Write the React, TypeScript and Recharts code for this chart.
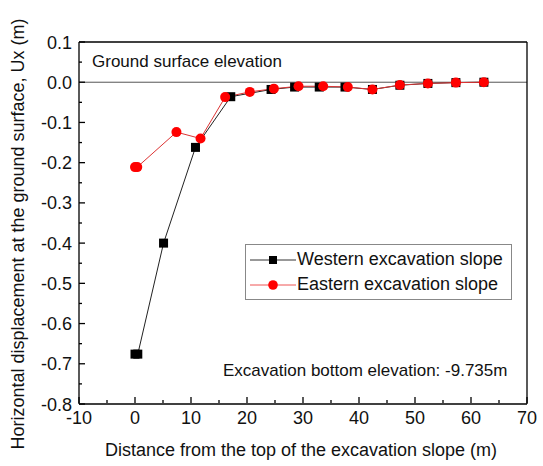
import React from 'react';
import {
  LineChart,
  Line,
  XAxis,
  YAxis,
  ReferenceLine,
} from 'recharts';

const westX = [0, 0.5, 5.1, 10.8, 17.1, 24.3, 28.5, 32.9, 37.5, 42.4, 47.3, 52.3, 57.3, 62.3];
const westY = [-0.676, -0.676, -0.4, -0.162, -0.036, -0.018, -0.012, -0.012, -0.012, -0.018, -0.0075, -0.003, -0.001, 0];

const eastX = [0, 0.4, 7.4, 11.7, 16.1, 20.5, 24.8, 29.2, 33.6, 38.0, 42.4, 47.3, 52.3, 57.3, 62.3];
const eastY = [-0.211, -0.211, -0.124, -0.14, -0.037, -0.024, -0.016, -0.01, -0.01, -0.012, -0.018, -0.007, -0.003, -0.001, 0];

const xTicks = [-10, -5, 0, 5, 10, 15, 20, 25, 30, 35, 40, 45, 50, 55, 60, 65, 70];
const yTicks = [-0.8, -0.75, -0.7, -0.65, -0.6, -0.55, -0.5, -0.45, -0.4, -0.35, -0.3, -0.25, -0.2, -0.15, -0.1, -0.05, 0, 0.05, 0.1];

const SERIES = ['Western excavation slope', 'Eastern excavation slope'];
const X_TITLE = 'Distance from the top of the excavation slope (m)';
const Y_TITLE = 'Horizontal displacement at the ground surface, Ux (m)';

const FONT = 'Arial, "Liberation Sans", sans-serif';
const INK = '#111';

const west = westX.map((x, i) => ({ x, y: westY[i] }));
const east = eastX.map((x, i) => ({ x, y: eastY[i] }));

const isMajorX = (v: number) => Math.round(v) % 10 === 0;
const isMajorY = (v: number) => Math.abs(Math.round(v * 100)) % 10 === 0;

// ticks point into the plot; long ones carry a label
function XTick({ x, y, payload, side }: any) {
  const major = isMajorX(payload.value);
  const len = major ? 6 : 3;
  const base = side === 'top' ? y : y - 1;
  const dir = side === 'top' ? 1 : -1;
  return (
    <g>
      <line x1={x} x2={x} y1={base} y2={base + dir * len} stroke="#000" strokeWidth={1.3} />
      {side === 'bottom' && major && (
        <text x={x} y={base + 21} textAnchor="middle" fontSize={18} fill={INK} fontFamily={FONT}>
          {payload.value}
        </text>
      )}
    </g>
  );
}

function YTick({ x, y, payload, side }: any) {
  const major = isMajorY(payload.value);
  const len = major ? 6 : 3;
  const dir = side === 'left' ? 1 : -1;
  return (
    <g>
      <line x1={x} x2={x + dir * len} y1={y} y2={y} stroke="#000" strokeWidth={1.3} />
      {side === 'left' && major && (
        <text x={x - 7} y={y + 6.5} textAnchor="end" fontSize={18} fill={INK} fontFamily={FONT}>
          {payload.value.toFixed(1)}
        </text>
      )}
    </g>
  );
}

const Square = ({ cx, cy, index }: any) => (
  <rect key={index} x={cx - 4.5} y={cy - 4.5} width={9} height={9} fill="#000" />
);

const Circle = ({ cx, cy, index }: any) => (
  <circle key={index} cx={cx} cy={cy} r={5} fill="#f00" />
);

function LegendBox() {
  const row = (label: string, color: string, square: boolean) => (
    <div style={{ display: 'flex', alignItems: 'center', height: 25 }}>
      <svg width={46} height={14}>
        <line x1={0} x2={46} y1={7} y2={7} stroke={color} strokeWidth={1} />
        {square ? (
          <rect x={19} y={3} width={8} height={8} fill="#000" />
        ) : (
          <circle cx={23} cy={7} r={4.8} fill="#f00" />
        )}
      </svg>
      <span style={{ marginLeft: 1 }}>{label}</span>
    </div>
  );
  return (
    <div
      style={{
        position: 'absolute',
        left: 245,
        top: 244,
        border: '1px solid #888',
        background: '#fff',
        width: 267,
        padding: '2px 4px',
        fontFamily: FONT,
        fontSize: 18,
        color: INK,
        boxSizing: 'border-box',
      }}
    >
      {row(SERIES[0], '#333', true)}
      {row(SERIES[1], '#e55', false)}
    </div>
  );
}

export default function App() {
  return (
    <div style={{ position: 'absolute', left: 0, top: 0, width: 543, height: 466, background: '#fff' }}>
      <LineChart width={543} height={466} margin={{ top: 41, right: 15, bottom: 61, left: 78 }}>
        <XAxis
          xAxisId="b"
          type="number"
          dataKey="x"
          domain={[-10, 70]}
          ticks={xTicks}
          interval={0}
          height={1}
          tickSize={0}
          tickMargin={0}
          tickLine={false}
          axisLine={{ stroke: '#000', strokeWidth: 1.3 }}
          tick={(p: any) => <XTick {...p} side="bottom" />}
          label={{
            content: () => (
              <text x={301} y={456} textAnchor="middle" fontSize={18} fill={INK} fontFamily={FONT}>
                {X_TITLE}
              </text>
            ),
          }}
        />
        <XAxis
          xAxisId="t"
          orientation="top"
          type="number"
          dataKey="x"
          domain={[-10, 70]}
          ticks={xTicks}
          interval={0}
          height={1}
          tickSize={0}
          tickMargin={0}
          tickLine={false}
          axisLine={{ stroke: '#000', strokeWidth: 1.3 }}
          tick={(p: any) => <XTick {...p} side="top" />}
        />
        <YAxis
          yAxisId="l"
          type="number"
          domain={[-0.8, 0.1]}
          ticks={yTicks}
          interval={0}
          width={1}
          tickSize={0}
          tickMargin={0}
          tickLine={false}
          axisLine={{ stroke: '#000', strokeWidth: 1.3 }}
          tick={(p: any) => <YTick {...p} side="left" />}
          label={{
            content: () => (
              <text
                x={24}
                y={234}
                transform="rotate(-90 24 234)"
                textAnchor="middle"
                fontSize={18}
                fill={INK}
                fontFamily={FONT}
              >
                {Y_TITLE}
              </text>
            ),
          }}
        />
        <YAxis
          yAxisId="r"
          orientation="right"
          type="number"
          domain={[-0.8, 0.1]}
          ticks={yTicks}
          interval={0}
          width={1}
          tickSize={0}
          tickMargin={0}
          tickLine={false}
          axisLine={{ stroke: '#000', strokeWidth: 1.3 }}
          tick={(p: any) => <YTick {...p} side="right" />}
        />
        <ReferenceLine xAxisId="b" yAxisId="l" y={0} stroke="#555" strokeWidth={1} />
        <Line
          xAxisId="b"
          yAxisId="l"
          data={west}
          dataKey="y"
          name={SERIES[0]}
          stroke="#222"
          strokeWidth={1}
          dot={Square}
          activeDot={false}
          isAnimationActive={false}
        />
        <Line
          xAxisId="b"
          yAxisId="l"
          data={east}
          dataKey="y"
          name={SERIES[1]}
          stroke="#d33"
          strokeWidth={1}
          dot={Circle}
          activeDot={false}
          isAnimationActive={false}
        />
      </LineChart>
      <LegendBox />
      <div style={{ position: 'absolute', left: 92, top: 52, fontFamily: FONT, fontSize: 17, color: INK }}>
        Ground surface elevation
      </div>
      <div style={{ position: 'absolute', left: 223, top: 361, fontFamily: FONT, fontSize: 17, color: INK }}>
        Excavation bottom elevation: -9.735m
      </div>
    </div>
  );
}
